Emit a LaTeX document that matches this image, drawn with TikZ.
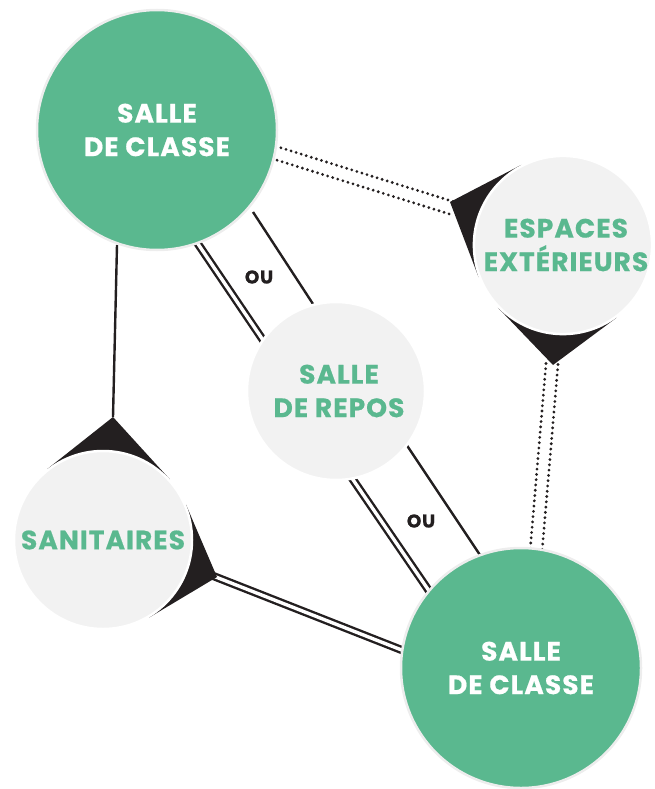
\documentclass[tikz,border=0pt]{standalone}
\usepackage{fontspec}
\newfontfamily\lab{Poppins}[LetterSpace=4, BoldFeatures={FakeBold=0.6}]
\usetikzlibrary{calc}
\definecolor{cgreen}{RGB}{90,184,143}
\definecolor{cgray}{RGB}{242,242,242}
\definecolor{cdark}{RGB}{35,31,32}
\pgfdeclarelayer{bg}
\pgfsetlayers{bg,main}
\tikzset{
  bigc/.style={circle, fill=cgreen, draw=black!7, line width=2.5pt, minimum size=240pt, inner sep=0pt,
    text=white, align=center, font=\lab\bfseries\fontsize{26.5}{33.5}\selectfont},
  smallc/.style={circle, fill=cgray, draw=white, line width=2.5pt, minimum size=178pt, inner sep=0pt,
    text=cgreen, align=center, font=\lab\bfseries\fontsize{26.5}{33.5}\selectfont},
  dotline/.style={cdark, line width=3.1pt, line cap=round, dash pattern=on 0pt off 5.3pt},
  solidline/.style={cdark, line width=2.4pt},
  dbline/.style={cdark, line width=2.4pt, double=white, double distance=3.4pt},
  tail/.style={fill=cdark},
  oulabel/.style={text=cdark, font=\lab\bfseries\fontsize{18.5}{18.5}\selectfont, inner sep=0pt}
}
\begin{document}
\begin{tikzpicture}[x=1pt,y=-1pt]
\useasboundingbox (0,0) rectangle (654,789);
% circles
\node[bigc] (c1) at (157,130) {SALLE\\DE CLASSE};
\node[bigc] (c2) at (521,668) {SALLE\\DE CLASSE};
\node[smallc] (E) at (563,245) {\hspace*{6pt}ESPACES\\\hspace*{6pt}EXTÉRIEURS};
\node[smallc] (R) at (336,391) {\hspace*{6pt}SALLE\\\hspace*{6pt}DE REPOS};
\node[smallc] (S) at (103,540) {SANITAIRES};
% tips and line ends
\coordinate (tE1) at (450,202);
\coordinate (tE2) at (553,365);
\coordinate (tS1) at (113,417);
\coordinate (tS2) at (217,577);
\coordinate (d1a) at (279,154);
\coordinate (d1b) at (452,208);
\coordinate (d2a) at (552,364);
\coordinate (d2b) at (536,552);
\coordinate (s1a) at (117,245);
\coordinate (db1b) at (422,658);
\coordinate (r1a) at (194,238);
\coordinate (r1b) at (267,346);
\coordinate (r2a) at (253,212);
\coordinate (r2b) at (313,304);
\coordinate (q1a) at (345,468);
\coordinate (q1b) at (438,604);
\coordinate (q2a) at (402,438);
\coordinate (q2b) at (486,564);
\node[oulabel] (ou1) at (259,277) {OU};
\node[oulabel] (ou2) at (421,521) {OU};
\begin{pgfonlayer}{bg}
  % dotted pairs
  \draw[dotline] ($(d1a)!6.5pt!90:(d1b)$) -- ($(d1b)!6.5pt!-90:(d1a)$);
  \draw[dotline] ($(d1a)!6.5pt!-90:(d1b)$) -- ($(d1b)!6.5pt!90:(d1a)$);
  \draw[dotline] ($(d2a)!6pt!90:(d2b)$) -- ($(d2b)!6pt!-90:(d2a)$);
  \draw[dotline] ($(d2a)!6pt!-90:(d2b)$) -- ($(d2b)!6pt!90:(d2a)$);
  % solid
  \draw[solidline] (s1a) -- (tS1);
  \draw[dbline] ($(tS2)!7pt!(S)$) -- (db1b);
  \draw[dbline] (r1a) -- (r1b);
  \draw[solidline] (r2a) -- (r2b);
  \draw[dbline] (q1a) -- (q1b);
  \draw[solidline] (q2a) -- (q2b);
  % tails
  \fill[tail] (tE1) -- (tangent cs:node=E,point={(tE1)},solution=1) -- (E.center) -- (tangent cs:node=E,point={(tE1)},solution=2) -- cycle;
  \fill[tail] (tE2) -- (tangent cs:node=E,point={(tE2)},solution=1) -- (E.center) -- (tangent cs:node=E,point={(tE2)},solution=2) -- cycle;
  \fill[tail] (tS1) -- (tangent cs:node=S,point={(tS1)},solution=1) -- (S.center) -- (tangent cs:node=S,point={(tS1)},solution=2) -- cycle;
  \fill[tail] (tS2) -- (tangent cs:node=S,point={(tS2)},solution=1) -- (S.center) -- (tangent cs:node=S,point={(tS2)},solution=2) -- cycle;
\end{pgfonlayer}
\end{tikzpicture}
\end{document}
